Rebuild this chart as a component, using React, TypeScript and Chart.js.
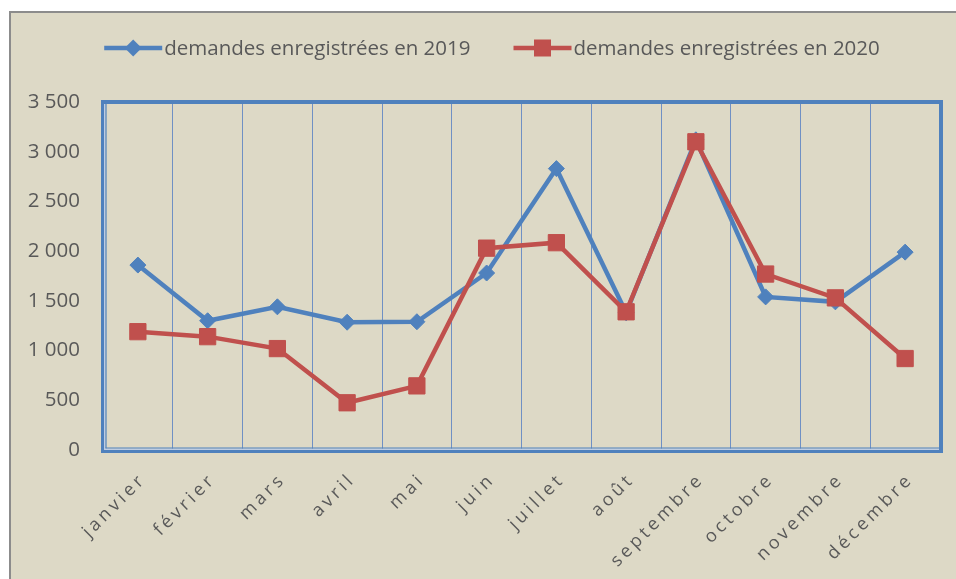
import React, { useEffect, useRef } from 'react';
import { Chart, registerables } from 'chart.js';

Chart.register(...registerables);

const months = ['janvier', 'février', 'mars', 'avril', 'mai', 'juin', 'juillet', 'août', 'septembre', 'octobre', 'novembre', 'décembre'];
const values2019 = [1860, 1300, 1440, 1285, 1290, 1780, 2830, 1380, 3120, 1540, 1490, 1990];
const values2020 = [1190, 1140, 1020, 475, 645, 2030, 2085, 1390, 3100, 1770, 1530, 920];
const label2019 = 'demandes enregistrées en 2019';
const label2020 = 'demandes enregistrées en 2020';
const yMin = 0;
const yMax = 3500;
const yStep = 500;

const BLUE = '#4F81BD';
const RED = '#C0504D';
const TEXT = '#595959';
const FONT = "'Open Sans', sans-serif";

const fmt = (v: number) => String(v).replace(/\B(?=(\d{3})+(?!\d))/g, ' ');

const framePlugin = {
  id: 'frame',
  beforeDatasetsDraw(chart: any) {
    const { ctx, chartArea } = chart;
    const l = chartArea.left, t = chartArea.top, r = chartArea.right, b = chartArea.bottom;
    ctx.save();
    ctx.lineCap = 'butt';
    const line = (x1: number, y1: number, x2: number, y2: number, w: number, c: string) => {
      ctx.beginPath();
      ctx.strokeStyle = c;
      ctx.lineWidth = w;
      ctx.moveTo(x1, y1);
      ctx.lineTo(x2, y2);
      ctx.stroke();
    };
    line(l - 2, t, r + 3, t, 4, BLUE);
    line(r + 1, t - 2, r + 1, b + 3, 4, BLUE);
    line(l - 0.5, t - 2, l - 0.5, b + 3, 3, BLUE);
    line(l + 1.75, t + 2, l + 1.75, b, 1.5, '#BFCDE2');
    line(l + 3, t + 2, l + 3, b - 1.5, 1.2, BLUE);
    line(l - 2, b + 1.5, r + 3, b + 1.5, 3, BLUE);
    line(l + 1, b - 0.75, r - 1, b - 0.75, 1.5, '#BFCDE2');
    line(l + 2.5, b - 2, r - 1, b - 2, 1.2, BLUE);
    ctx.restore();
  },
};

const xLabelsPlugin = {
  id: 'xlabels',
  afterDraw(chart: any) {
    const { ctx } = chart;
    const xs = chart.scales.x;
    const ls = 3.6;
    ctx.save();
    ctx.font = `18px ${FONT}`;
    ctx.fillStyle = TEXT;
    (ctx as any).letterSpacing = `${ls}px`;
    ctx.textAlign = 'right';
    ctx.textBaseline = 'middle';
    months.forEach((m, i) => {
      const x = xs.getPixelForValue(i);
      ctx.save();
      ctx.translate(x + 3, chart.chartArea.bottom + 29);
      ctx.rotate(-Math.PI / 4);
      ctx.fillText(m, ls, 0);
      ctx.restore();
    });
    ctx.restore();
  },
};

const legendPlugin = {
  id: 'customLegend',
  afterDraw(chart: any) {
    const { ctx } = chart;
    const items = chart.data.datasets
      .map((d: any) => d)
      .sort((a: any, b: any) => a.legendIndex - b.legendIndex);
    const symW = 58;
    const gap = 2;
    const itemGap = 43;
    ctx.save();
    ctx.font = `20.5px ${FONT}`;
    const widths = items.map((d: any) => ctx.measureText(d.label).width);
    const total = widths.reduce((a: number, w: number) => a + symW + gap + w, 0) + itemGap * (items.length - 1);
    let x = 481 - total / 2;
    const y = 35;
    items.forEach((d: any, i: number) => {
      ctx.strokeStyle = d.borderColor;
      ctx.lineWidth = 4.5;
      ctx.beginPath();
      ctx.moveTo(x, y);
      ctx.lineTo(x + symW, y);
      ctx.stroke();
      const cx = x + symW / 2;
      ctx.fillStyle = d.pointBackgroundColor;
      ctx.beginPath();
      if (d.pointStyle === 'rectRot') {
        const rr = 8.5;
        ctx.moveTo(cx, y - rr);
        ctx.lineTo(cx + rr, y);
        ctx.lineTo(cx, y + rr);
        ctx.lineTo(cx - rr, y);
        ctx.closePath();
      } else {
        const s = 8.5;
        ctx.rect(cx - s, y - s, 2 * s, 2 * s);
      }
      ctx.fill();
      ctx.fillStyle = TEXT;
      ctx.textAlign = 'left';
      ctx.textBaseline = 'middle';
      ctx.fillText(d.label, x + symW + gap, y + 1);
      x += symW + gap + widths[i] + itemGap;
    });
    ctx.restore();
  },
};

export default function App() {
  const ref = useRef<HTMLCanvasElement | null>(null);

  useEffect(() => {
    if (!ref.current) return;
    const chart = new Chart(ref.current, {
      type: 'line',
      data: {
        labels: months,
        datasets: [
          {
            label: label2019,
            legendIndex: 0,
            data: values2019,
            borderColor: BLUE,
            backgroundColor: BLUE,
            pointBackgroundColor: BLUE,
            pointBorderColor: BLUE,
            borderWidth: 4.5,
            pointStyle: 'rectRot',
            pointRadius: 8,
            pointBorderWidth: 1,
            tension: 0,
            order: 1,
          } as any,
          {
            label: label2020,
            legendIndex: 1,
            data: values2020,
            borderColor: RED,
            backgroundColor: RED,
            pointBackgroundColor: RED,
            pointBorderColor: RED,
            borderWidth: 4.5,
            pointStyle: 'rect',
            pointRadius: 11.5,
            pointBorderWidth: 1,
            tension: 0,
            order: 0,
          } as any,
        ],
      },
      options: {
        responsive: false,
        animation: false,
        layout: { padding: { top: 89, right: 16, left: 0, bottom: 0 } },
        plugins: {
          legend: { display: false },
          tooltip: { enabled: false },
          title: { display: false },
        },
        scales: {
          x: {
            offset: true,
            grid: { offset: true, color: '#6F90C4', lineWidth: 1, drawTicks: false },
            border: { display: false },
            ticks: { display: false },
            afterFit: (s: any) => {
              s.height = 129;
            },
          },
          y: {
            min: yMin,
            max: yMax,
            grid: { display: false, drawTicks: false },
            border: { display: false },
            ticks: {
              stepSize: yStep,
              padding: 23,
              color: TEXT,
              font: { family: FONT, size: 20.5 },
              callback: (v: any) => fmt(Number(v)),
            },
            afterFit: (s: any) => {
              s.width = 92;
            },
          },
        },
      },
      plugins: [framePlugin, xLabelsPlugin, legendPlugin],
    });
    return () => chart.destroy();
  }, []);

  return (
    <div
      style={{
        position: 'absolute',
        left: 9,
        top: 11,
        width: 947,
        height: 568,
        boxSizing: 'border-box',
        background: '#DDD9C6',
        borderTop: '2px solid #8C8C8C',
        borderLeft: '2px solid #8C8C8C',
        overflow: 'hidden',
      }}
    >
      <canvas ref={ref} width={945} height={566} style={{ display: 'block', width: 945, height: 566 }} />
    </div>
  );
}
